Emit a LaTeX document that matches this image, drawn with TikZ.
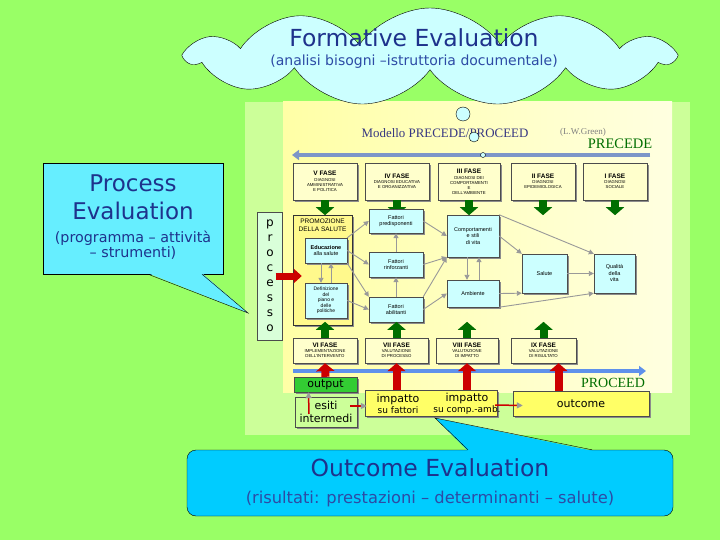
\documentclass[tikz,border=0pt]{standalone}
\usepackage{fontspec}
\setmainfont{Liberation Sans}
\newfontfamily\fontcall{DejaVu Sans}
\newfontfamily\fonttimes{Liberation Serif}
\newfontfamily\fontmano{DejaVu Sans}
\usepackage{xcolor}
\usetikzlibrary{shapes.symbols, arrows.meta, shadows, positioning}
\definecolor{sfondo}{RGB}{153,255,102}
\definecolor{pannello}{RGB}{204,255,153}
\definecolor{crema}{RGB}{255,255,204}
\definecolor{giallo}{RGB}{255,255,102}
\definecolor{azzurro}{RGB}{204,255,255}
\definecolor{celeste}{RGB}{102,238,255}
\definecolor{ciano}{RGB}{0,204,255}
\definecolor{blutesto}{RGB}{30,50,140}
\definecolor{blusotto}{RGB}{45,75,165}
\definecolor{verdescuro}{RGB}{0,110,0}
\definecolor{rosso}{RGB}{204,0,0}
\definecolor{verdeout}{RGB}{51,204,51}
\definecolor{acciaio}{RGB}{125,150,200}
\definecolor{bluproc}{RGB}{95,145,235}
\definecolor{titmod}{RGB}{55,55,130}
\newcommand{\fase}[2]{{\fontsize{6.5}{7}\selectfont\bfseries #1}\\[0.5pt]#2}
\newcommand{\sotto}{\fontsize{14.3}{15}\selectfont}
\tikzset{
  ombra/.style={drop shadow={shadow xshift=2pt, shadow yshift=-2pt, fill=black!45, opacity=1}},
  fase/.style={draw=black!70, fill=crema, ombra, align=center, inner sep=1pt,
    minimum width=64pt, font=\fontsize{4.3}{5}\selectfont},
  fattore/.style={draw=black!70, fill=azzurro, ombra, align=center, inner sep=1pt,
    font=\fontsize{5.5}{6.5}\selectfont},
  freccia/.style={draw=black!40, line width=0.9pt, -{Triangle[width=5pt, length=5pt]}},
  verdefr/.style={draw=verdescuro, line width=8pt, -{Triangle[width=18pt, length=8pt]}},
  rossofr/.style={draw=rosso, line width=8pt, -{Triangle[width=18pt, length=8pt]}},
  rossino/.style={draw=rosso, line width=1.5pt, -{Triangle[width=6pt, length=6pt, color=black!40]}},
  bolla/.style={circle, draw, fill=azzurro, inner sep=0pt},
  mano/.style={font=\fontmano\fontsize{11}{12.5}\selectfont, align=center},
}
\begin{document}
\begin{tikzpicture}[x=1pt, y=-1pt]
    % Sfondo
    \useasboundingbox (0,0) rectangle (720,540);
    \fill[sfondo] (0,0) rectangle (720,540);
    \fill[pannello] (245,102) rectangle (690,435);
    \shade[left color=yellow!35, right color=yellow!12] (283,102) rectangle (672,392);
    % Titoli del modello
    \node[font=\fonttimes\fontsize{12.9}{14}\selectfont, text=titmod] (mtit) at (445,133) {Modello PRECEDE/PROCEED};
    \node[font=\fonttimes\fontsize{9}{10}\selectfont, text=black!50] (green) at (583,132) {(L.W.Green)};
    \node[font=\fonttimes\fontsize{14.5}{16}\selectfont, text=verdescuro] (precede) at (620,144) {PRECEDE};
    \coordinate (precA) at (650,155);
    \coordinate (precB) at (292,155);
    \draw[draw=acciaio, line width=4pt, -{Triangle[width=10pt, length=7pt]}] (precA) -- (precB);
    % Fasi PRECEDE
    \node[fase, minimum height=37pt] (f5) at (325,181.5) {\fase{V FASE}{DIAGNOSI\\AMMINISTRATIVA\\E POLITICA}};
    \node[fase, minimum height=37pt] (f4) at (397,181.5) {\fase{IV FASE}{DIAGNOSI EDUCATIVA\\E ORGANIZZATIVA}};
    \node[fase, minimum height=37pt, minimum width=62pt] (f3) at (469,181.5) {\fase{III FASE}{DIAGNOSI DEI\\COMPORTAMENTI\\E\\DELL'AMBIENTE}};
    \node[fase, minimum height=37pt] (f2) at (543,181.5) {\fase{II FASE}{DIAGNOSI\\EPIDEMIOLOGICA}};
    \node[fase, minimum height=37pt] (f1) at (615,181.5) {\fase{I FASE}{DIAGNOSI\\SOCIALE}};
    \foreach \f in {f5,f4,f3,f2,f1}
        \draw[verdefr] (\f.south) -- ++(0,15);
    % Processo
    \node[draw=black!70, fill=green!15, minimum width=25pt, minimum height=128pt, inner sep=0pt,
        align=center, font=\fontcall\fontsize{12}{15}\selectfont] (proc) at (270,276) {p\\r\\o\\c\\e\\s\\s\\o};
    \node[draw=black!80, fill=yellow!45, minimum width=59pt, minimum height=110pt, ombra] (promo) at (322.5,270) {};
    \node[anchor=north, align=center, font=\fontsize{6.5}{7.5}\selectfont] (promotit) at ([yshift=-1pt]promo.north) {PROMOZIONE\\DELLA SALUTE};
    \node[fattore, minimum width=42pt, minimum height=25pt] (edu) at (326,250.5) {\textbf{Educazione}\\alla salute};
    \node[fattore, minimum width=42pt, minimum height=35pt, font=\fontsize{5}{5.6}\selectfont] (defi) at (326,300.5) {Definizione\\del\\piano e\\delle\\politiche};
    \draw[rossofr, line width=7pt, -{Triangle[width=14pt, length=8pt]}] ([xshift=-7pt]proc.east) -- ([xshift=9pt]promo.west |- proc.east);
    % Fattori e determinanti
    \node[fattore, minimum width=54pt, minimum height=24pt] (pred) at (396,221) {Fattori\\predisponenti};
    \node[fattore, minimum width=54pt, minimum height=25pt] (rinf) at (396,264.5) {Fattori\\rinforzanti};
    \node[fattore, minimum width=54pt, minimum height=25pt] (abil) at (396,309.5) {Fattori\\abilitanti};
    \node[fattore, minimum width=52pt, minimum height=42pt] (comp) at (473,236) {Comportamenti\\e stili\\di vita};
    \node[fattore, minimum width=52pt, minimum height=27pt] (amb) at (473,293.5) {Ambiente};
    \node[fattore, minimum width=45pt, minimum height=39pt] (sal) at (544.5,273.5) {Salute};
    \node[fattore, minimum width=41pt, minimum height=39pt] (qual) at (614.5,273.5) {Qualità\\della\\vita};
    % Frecce grigie
    \draw[freccia] ([xshift=-5pt]edu.south) -- ([xshift=-5pt]defi.north);
    \draw[freccia] ([xshift=5pt]defi.north) -- ([xshift=5pt]edu.south);
    \draw[freccia] (edu.north east) -- (pred.west);
    \draw[freccia] (edu.east) -- (rinf.west);
    \draw[freccia] (edu.south east) -- (abil.north west);
    \draw[freccia] (defi.east) -- (abil.west);
    \draw[freccia] (rinf.north) -- (pred.south);
    \draw[freccia] (abil.north) -- (rinf.south);
    \draw[freccia] (pred.east) -- (comp.west);
    \draw[freccia] (rinf.east) -- (comp.south west);
    \draw[freccia] (abil.north east) -- (comp.south west);
    \draw[freccia] (abil.east) -- (amb.west);
    \draw[freccia] ([xshift=-6pt]comp.south) -- ([xshift=-6pt]amb.north);
    \draw[freccia] ([xshift=6pt]amb.north) -- ([xshift=6pt]comp.south);
    \draw[freccia] (comp.east) -- (sal.north west);
    \draw[freccia] (amb.east) -- (sal.south west);
    \draw[freccia] (comp.north east) -- (qual.north west);
    \draw[freccia] (sal.east) -- (qual.west);
    \draw[freccia] (amb.south east) -- (qual.south west);
    % Fasi PROCEED
    \node[fase, minimum height=25pt] (f6) at (325,350.5) {\fase{VI FASE}{IMPLEMENTAZIONE\\DELL'INTERVENTO}};
    \node[fase, minimum height=25pt, minimum width=63pt] (f7) at (396.5,350.5) {\fase{VII FASE}{VALUTAZIONE\\DI PROCESSO}};
    \node[fase, minimum height=25pt, minimum width=62pt] (f8) at (467,350.5) {\fase{VIII FASE}{VALUTAZIONE\\DI IMPATTO}};
    \node[fase, minimum height=25pt, minimum width=65pt] (f9) at (543.5,350.5) {\fase{IX FASE}{VALUTAZIONE\\DI RISULTATO}};
    \foreach \f in {f6,f7,f8,f9}
        \draw[verdefr] (\f.north) -- ++(0,-16);
    \coordinate (proA) at (293,371);
    \coordinate (proB) at (646,371);
    \draw[draw=bluproc, line width=3.5pt, -{Triangle[width=10pt, length=7pt]}] (proA) -- (proB);
    \node[font=\fonttimes\fontsize{14}{15}\selectfont, text=verdescuro] (proceed) at (613,383) {PROCEED};
    % Risultati
    \node[draw=black!70, fill=verdeout, ombra, minimum width=63pt, minimum height=15pt, inner sep=0pt, mano] (outp) at (325.5,384.5) {output};
    \node[draw=black!70, fill=pannello, ombra, minimum width=62pt, minimum height=30pt, inner sep=0pt, mano] (esiti) at (326,412) {esiti\\intermedi};
    \node[draw=black!70, fill=giallo, ombra, minimum width=132pt, minimum height=26pt] (imp) at (431,403) {};
    \node[mano, font=\fontmano\fontsize{11}{11.5}\selectfont] (impA) at (398,404) {impatto\\\fontsize{9}{10}\selectfont su fattori};
    \node[mano, font=\fontmano\fontsize{11}{11.5}\selectfont] (impB) at (467,404) {impatto\\\fontsize{9}{10}\selectfont su comp.-amb.};
    \node[draw=black!70, fill=giallo, ombra, minimum width=136pt, minimum height=25pt, mano] (outc) at (581,403.5) {outcome};
    \draw[rossofr] (outp.north) -- (f6.south);
    \draw[rossofr] (f7.south |- imp.north) -- (f7.south);
    \draw[rossofr] (f8.south |- imp.north) -- (f8.south);
    \draw[rossofr] ([xshift=15pt]f9.south |- outc.north) -- ([xshift=15pt]f9.south);
    \draw[rossino] ([xshift=-17pt,yshift=-2pt]esiti.center) -- ([xshift=-17pt]outp.south);
    \draw[rossino] ([xshift=-7pt,yshift=-3pt]imp.west -| esiti.east) -- ([xshift=2pt,yshift=-3pt]imp.west);
    \draw[rossino] ([xshift=-2pt,yshift=-2pt]imp.east) -- ([xshift=10pt,yshift=-2pt]outc.west);
    % Formative evaluation
    \node[cloud, cloud puffs=11, cloud puff arc=110, cloud ignores aspect, draw, fill=azzurro,
        minimum width=485pt, minimum height=98pt] (nuvola) at (430,57) {};
    \node[font=\fontcall\fontsize{23.5}{26}\selectfont, text=blutesto] (formtit) at (414,38) {Formative Evaluation};
    \node[font=\fontcall\fontsize{14}{16}\selectfont, text=blusotto] (formsub) at (414,62) {(analisi bisogni –istruttoria documentale)};
    \node[bolla, minimum size=14pt] (b1) at (463,114) {};
    \node[bolla, minimum size=10pt] (b2) at (474,137) {};
    \node[bolla, minimum size=5pt] (b3) at (483,155) {};
    % Process evaluation
    \node[draw, fill=celeste, minimum width=180pt, minimum height=111pt, align=center,
        font=\fontcall\fontsize{23}{28}\selectfont, text=blutesto] (proccall) at (133,218.5)
        {Process\\Evaluation\\[-5pt]\sotto\begin{tabular}[t]{@{}c@{}}(programma – attività\\– strumenti)\end{tabular}};
    \coordinate (ptip) at (248,313);
    \fill[celeste] ([xshift=15pt,yshift=1pt]proccall.south) -- (ptip) -- ([xshift=69pt,yshift=1pt]proccall.south) -- cycle;
    \draw ([xshift=15pt]proccall.south) -- (ptip) -- ([xshift=69pt]proccall.south);
    % Outcome evaluation
    \node[draw, fill=ciano, rounded corners=9pt, minimum width=486pt, minimum height=66pt, align=center,
        font=\fontcall\fontsize{23.5}{27}\selectfont, text=blutesto] (outcall) at (430,483)
        {Outcome Evaluation\\\fontsize{16.3}{18}\selectfont\color{blusotto}(risultati: prestazioni – determinanti – salute)};
    \coordinate (otip) at (435,418);
    \fill[ciano] ([xshift=38pt,yshift=-1pt]outcall.north) -- (otip) -- ([xshift=162pt,yshift=-1pt]outcall.north) -- cycle;
    \draw ([xshift=38pt]outcall.north) -- (otip) -- ([xshift=162pt]outcall.north);
\end{tikzpicture}
\end{document}
